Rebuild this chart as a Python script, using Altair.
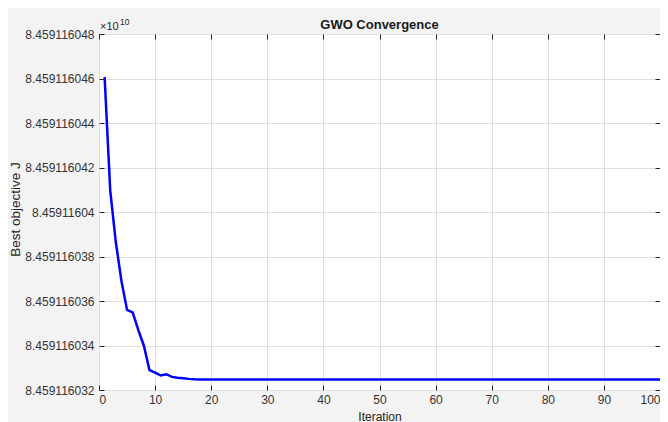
import json
import altair as alt
import pandas as pd

FONT = "Liberation Sans"

iterations = list(range(1, 101))
best_head = [84591160460.7, 84591160409.7, 84591160386.4, 84591160369.0, 84591160356.0,
             84591160354.9, 84591160347.0, 84591160339.9, 84591160328.9, 84591160327.8,
             84591160326.5, 84591160327.1, 84591160325.9, 84591160325.5, 84591160325.3,
             84591160325.0, 84591160324.8]
best_tail = [84591160324.7] * 83
best = best_head + best_tail

x_ticks = [0, 10, 20, 30, 40, 50, 60, 70, 80, 90, 100]
y_ticks = [84591160320, 84591160340, 84591160360, 84591160380, 84591160400,
           84591160420, 84591160440, 84591160460, 84591160480]
y_tick_labels = ["8.459116032", "8.459116034", "8.459116036", "8.459116038", "8.45911604",
                 "8.459116042", "8.459116044", "8.459116046", "8.459116048"]

df = pd.DataFrame({"Iteration": iterations, "Best": best})

x_scale = alt.Scale(domain=[0, 100], nice=False, zero=False)
y_scale = alt.Scale(domain=[y_ticks[0], y_ticks[-1]], nice=False, zero=False)

label_expr = f"{json.dumps(y_tick_labels)}[indexof({json.dumps(y_ticks)}, datum.value)]"

common = dict(domain=False, tickColor="#262626", tickSize=5, tickWidth=1,
              gridColor="#dfdfdf", gridWidth=1, labelColor="#333333",
              labelFont=FONT, labelFontSize=12, titleFont=FONT, titleColor="#262626",
              titleFontWeight="normal", offset=-5)

line = alt.Chart(df).mark_line(color="#0000ff", strokeWidth=2.5).encode(
    x=alt.X("Iteration:Q", scale=x_scale,
            axis=alt.Axis(orient="bottom", values=x_ticks, title="Iteration", labelPadding=4,
                          titleFontSize=12, titleY=35, titleBaseline="alphabetic",
                          titleAlign="center", **common)),
    y=alt.Y("Best:Q", scale=y_scale,
            axis=alt.Axis(orient="left", values=y_ticks, labelExpr=label_expr,
                          title="Best objective J", labelPadding=5, titleFontSize=13.5,
                          titleX=-89, titleY=175, titleAngle=-90, titleBaseline="middle",
                          titleAlign="center", **common)),
)

frame_axis = dict(domain=False, tickColor="#262626", tickSize=5, tickWidth=1,
                  grid=False, labels=False, title="", offset=-5)

frame = alt.Chart(df).mark_point(opacity=0).encode(
    x=alt.X("Iteration:Q", scale=x_scale, axis=alt.Axis(orient="top", values=x_ticks, **frame_axis)),
    y=alt.Y("Best:Q", scale=y_scale, axis=alt.Axis(orient="right", values=y_ticks, **frame_axis)),
)

exp_main = alt.Chart(pd.DataFrame({"t": ["×10"]})).mark_text(
    align="left", baseline="alphabetic", fontSize=11, font=FONT, color="#262626"
).encode(text="t:N", x=alt.value(1), y=alt.value(-4))

exp_sup = alt.Chart(pd.DataFrame({"t": ["10"]})).mark_text(
    align="left", baseline="alphabetic", fontSize=8.5, font=FONT, color="#262626"
).encode(text="t:N", x=alt.value(21), y=alt.value(-9))

chart = alt.layer(line, frame, exp_main, exp_sup).resolve_axis(
    x="independent", y="independent"
).properties(
    width=561, height=356,
    padding={"left": 91, "top": 26, "right": 0, "bottom": 32},
    autosize=alt.AutoSizeParams(type="none"),
    background="#f3f3f3",
    title=alt.TitleParams("GWO Convergence", font=FONT, fontSize=13, fontWeight="bold",
                          color="#1a1a1a", anchor="middle", offset=6, frame="group", dy=20),
).configure_view(stroke="#404040", strokeWidth=1, fill="white")

chart.save("out.html", embed_options={"renderer": "svg", "actions": False})
